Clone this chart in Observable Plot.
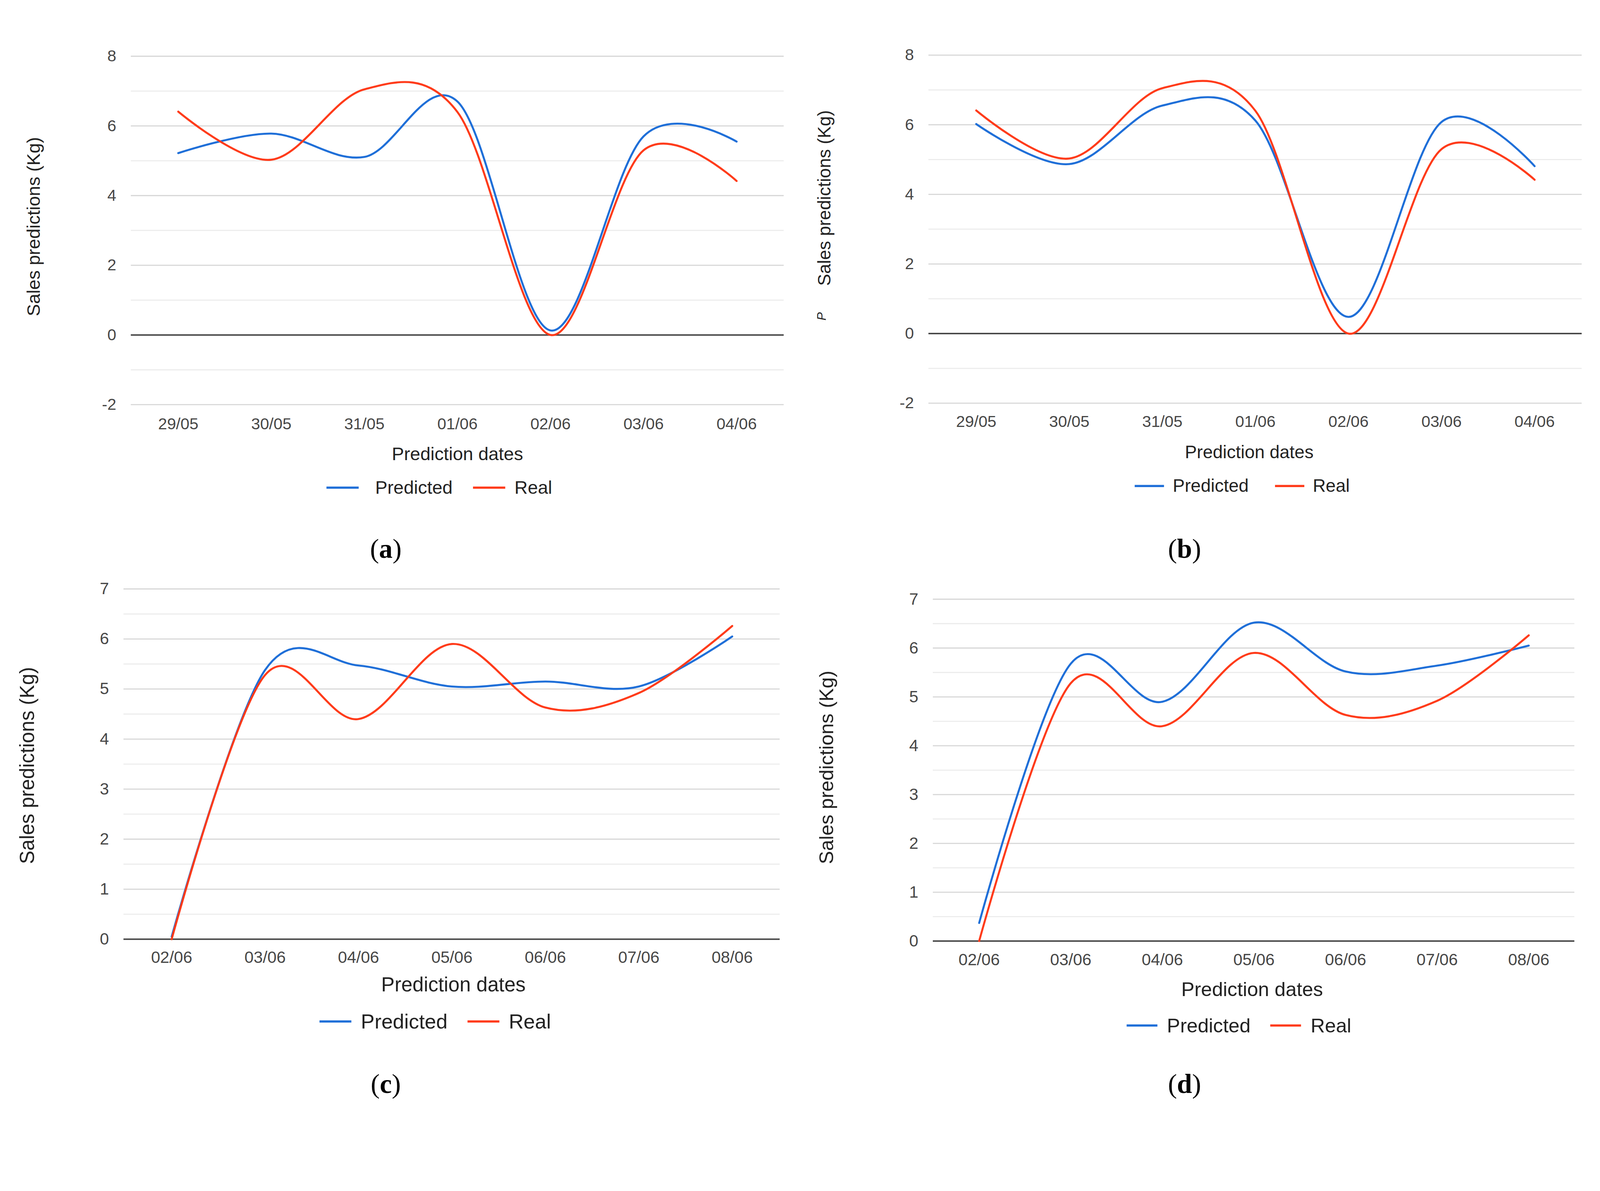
<!DOCTYPE html>
<html><head><meta charset="utf-8">
<script src="https://cdn.jsdelivr.net/npm/d3@7"></script>
<script src="https://cdn.jsdelivr.net/npm/@observablehq/plot@0.6"></script>
<style>
html,body{margin:0;padding:0;background:#fff;overflow:hidden;}
#page{position:relative;width:4367px;height:3049px;background:#fff;overflow:hidden;font-family:"Liberation Sans",Arial,sans-serif;transform-origin:0 0;}
.panel{position:absolute;}
.legend{position:absolute;display:flex;align-items:center;color:#222;white-space:nowrap;transform:translateY(-50%);line-height:1;}
.sw{display:inline-block;height:6px;}
.cap{position:absolute;font-family:"Liberation Serif","Times New Roman",serif;color:#000;transform:translate(-50%,-50%);white-space:nowrap;line-height:1;}
</style></head><body><div id="page"></div>
<script>
// ---- data ----
const weekOneDates = ["29/05","30/05","31/05","01/06","02/06","03/06","04/06"];
const weekTwoDates = ["02/06","03/06","04/06","05/06","06/06","07/06","08/06"];
const realWeekOne  = [6.41, 5.03, 7.05, 6.40, 0.00, 5.30, 4.42];
const predictedA   = [5.22, 5.78, 5.11, 6.70, 0.13, 5.70, 5.55];
const predictedB   = [6.02, 4.87, 6.55, 6.12, 0.48, 6.08, 4.81];
const realWeekTwo  = [0.00, 5.28, 4.40, 5.90, 4.63, 4.92, 6.26];
const predictedC   = [0.05, 5.38, 5.47, 5.05, 5.15, 5.05, 6.05];
const predictedD   = [0.37, 5.68, 4.90, 6.52, 5.52, 5.64, 6.05];
const ticksWeekOne = [-2, 0, 2, 4, 6, 8];
const minorWeekOne = [-1, 1, 3, 5, 7];
const ticksWeekTwo = [0, 1, 2, 3, 4, 5, 6, 7];
const minorWeekTwo = [0.5, 1.5, 2.5, 3.5, 4.5, 5.5, 6.5];
const seriesNames  = ["Predicted", "Real"];
const xTitle = "Prediction dates";
const yTitle = "Sales predictions (Kg)";
const captions = ["a", "b", "c", "d"];

// ---- styles / layout ----
const BLUE = "#1f6fd8", RED = "#ff3b1a";
const panels = [
  {dates:weekOneDates, pred:predictedA, real:realWeekOne, yDomain:[-2,8], major:ticksWeekOne, minor:minorWeekOne,
   box:[0,0,2190,1300], plot:[357,2139,153,1104], tickY:1156, tickFont:44, titleFont:50, xTitleAt:[1248,1239], yTitleAt:[92,618],
   legend:[891,1331,50,88,45,56,25], cap:[1053,1498]},
  {dates:weekOneDates, pred:predictedB, real:realWeekOne, yDomain:[-2,8], major:ticksWeekOne, minor:minorWeekOne,
   box:[2190,0,2177,1300], plot:[2534,4317,150,1100], tickY:1150, tickFont:44, titleFont:49, xTitleAt:[3409,1234], yTitleAt:[2250,540],
   legend:[3097,1326,49,80,24,72,23], cap:[3233,1498], stray:[2242,863]},
  {dates:weekTwoDates, pred:predictedC, real:realWeekTwo, yDomain:[0,7], major:ticksWeekTwo, minor:minorWeekTwo,
   box:[0,1480,2190,1290], plot:[337,2128,1607,2563], tickY:2612, tickFont:45, titleFont:55, xTitleAt:[1237,2688], yTitleAt:[75,2089],
   legend:[872,2788,56,87,26,54,26], cap:[1053,2958]},
  {dates:weekTwoDates, pred:predictedD, real:realWeekTwo, yDomain:[0,7], major:ticksWeekTwo, minor:minorWeekTwo,
   box:[2190,1480,2177,1290], plot:[2546,4297,1635,2568], tickY:2618, tickFont:45, titleFont:54, xTitleAt:[3417,2701], yTitleAt:[2256,2094],
   legend:[3075,2799,54,84,26,54,26], cap:[3233,2958]}
];

const page = document.getElementById("page");
function fit() {
  const s = Math.min(window.innerWidth / 4367, window.innerHeight / 3049);
  page.style.transform = `scale(${s})`;
}
fit();
window.addEventListener("resize", fit);

panels.forEach((cfg, k) => {
  const [bx, by, W, H] = cfg.box;
  const [pl, pr, pt, pb] = cfg.plot;
  const ml = pl - bx, mr = bx + W - pr, mt = pt - by, mb = by + H - pb;
  const predData = cfg.dates.map((d, i) => ({date: d, value: cfg.pred[i]}));
  const realData = cfg.dates.map((d, i) => ({date: d, value: cfg.real[i]}));
  const plotCx = (pl + pr) / 2, plotCy = (pt + pb) / 2;
  const tickPad = Math.round(cfg.tickY - pb - 0.36 * cfg.tickFont);
  const marks = [
    Plot.ruleY(cfg.minor, {stroke: "#ececec", strokeWidth: 3}),
    Plot.ruleY(cfg.major.filter(v => v !== 0), {stroke: "#d6d6d6", strokeWidth: 3}),
    Plot.ruleY([0], {stroke: "#444", strokeWidth: 4}),
    Plot.axisY({ticks: cfg.major, tickFormat: d => String(d), tickSize: 0, tickPadding: 40, fontSize: cfg.tickFont, fill: "#474747", label: null}),
    Plot.axisX({tickSize: 0, tickPadding: tickPad, fontSize: cfg.tickFont, fill: "#474747", label: null}),
    Plot.line(predData, {x: "date", y: "value", stroke: BLUE, strokeWidth: 5.5, curve: "cardinal"}),
    Plot.line(realData, {x: "date", y: "value", stroke: RED, strokeWidth: 5.5, curve: "cardinal"}),
    Plot.text([xTitle], {text: d => d, frameAnchor: "bottom", lineAnchor: "middle", textAnchor: "middle",
      dx: cfg.xTitleAt[0] - plotCx, dy: cfg.xTitleAt[1] - pb, fontSize: cfg.titleFont, fill: "#222"}),
    Plot.text([yTitle], {text: d => d, frameAnchor: "left", rotate: -90, textAnchor: "middle", lineAnchor: "middle",
      dx: cfg.yTitleAt[0] - pl, dy: cfg.yTitleAt[1] - plotCy, fontSize: cfg.titleFont, fill: "#222"})
  ];
  if (cfg.stray) {
    marks.push(Plot.text(["P"], {text: d => d, frameAnchor: "left", rotate: -90, textAnchor: "middle", lineAnchor: "middle",
      dx: cfg.stray[0] - pl, dy: cfg.stray[1] - plotCy, fontSize: 34, fontStyle: "italic", fill: "#222"}));
  }
  const chart = Plot.plot({
    width: W, height: H, marginLeft: ml, marginRight: mr, marginTop: mt, marginBottom: mb,
    style: {background: "transparent", fontFamily: "Liberation Sans, Arial, sans-serif", overflow: "visible"},
    x: {type: "point", domain: cfg.dates, padding: 0.5, label: null},
    y: {domain: cfg.yDomain, label: null},
    marks
  });
  const wrap = document.createElement("div");
  wrap.className = "panel";
  wrap.style.left = bx + "px"; wrap.style.top = by + "px";
  wrap.appendChild(chart);
  page.appendChild(wrap);

  // legend
  const [lx, ly, lf, sw, g1, g2, g3] = cfg.legend;
  const lg = document.createElement("div");
  lg.className = "legend";
  lg.style.left = lx + "px"; lg.style.top = ly + "px"; lg.style.fontSize = lf + "px";
  lg.innerHTML =
    `<span class="sw" style="width:${sw}px;background:${BLUE}"></span>` +
    `<span style="margin-left:${g1}px">${seriesNames[0]}</span>` +
    `<span class="sw" style="width:${sw}px;background:${RED};margin-left:${g2}px"></span>` +
    `<span style="margin-left:${g3}px">${seriesNames[1]}</span>`;
  page.appendChild(lg);

  // caption
  const cp = document.createElement("div");
  cp.className = "cap";
  cp.style.left = cfg.cap[0] + "px"; cp.style.top = cfg.cap[1] + "px"; cp.style.fontSize = "74px";
  cp.innerHTML = `(<b>${captions[k]}</b>)`;
  page.appendChild(cp);
});
</script>
</body></html>
